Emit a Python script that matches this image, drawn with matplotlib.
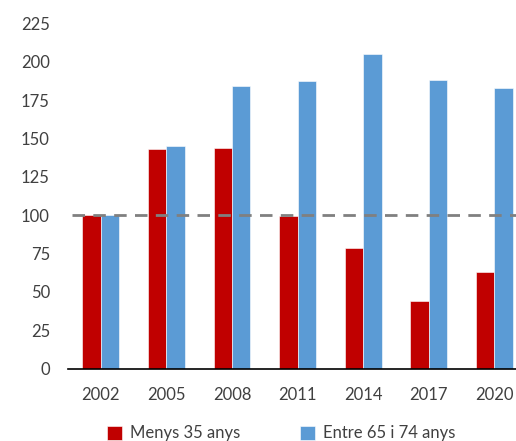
# Menys 35 anys vs Entre 65 i 74 anys (index 2002 = 100)
import matplotlib.pyplot as plt
import numpy as np

plt.rcParams['font.family'] = ['Lato', 'DejaVu Sans']

years = ['2002', '2005', '2008', '2011', '2014', '2017', '2020']
menys_35 = [100, 143, 144, 99.5, 78.5, 44, 63]
entre_65_74 = [100, 145, 184.5, 187.5, 205, 188, 183]
y_ticks = [0, 25, 50, 75, 100, 125, 150, 175, 200, 225]

red = '#C00000'
blue = '#5B9BD5'
text_color = '#404040'

fig = plt.figure(figsize=(5.16, 4.41), dpi=100)
ax = fig.add_axes([68 / 516, 72.3 / 441, 1 - 68 / 516, 345.2 / 441])

x = np.arange(len(years))
w = 0.28
ax.bar(x - w / 2, menys_35, w, color=red, edgecolor='white', linewidth=0.4,
       label='Menys 35 anys', zorder=2)
ax.bar(x + w / 2, entre_65_74, w, color=blue, edgecolor='white', linewidth=0.4,
       label='Entre 65 i 74 anys', zorder=2)

ax.axhline(100, xmin=0.01, color='#808080', linewidth=2.0,
           dashes=(4.5, 3), zorder=3)

ax.set_xlim(-0.5, 6.33)
ax.set_ylim(0, 225)
ax.set_yticks(y_ticks)
ax.set_xticks(x)
ax.set_xticklabels(years)
ax.tick_params(axis='both', length=0, labelsize=12, colors=text_color)
ax.tick_params(axis='x', pad=13)
ax.tick_params(axis='y', pad=13)

for side in ['top', 'right', 'left']:
    ax.spines[side].set_visible(False)
ax.spines['bottom'].set_color('black')
ax.spines['bottom'].set_linewidth(1.2)

fig.legend(loc='lower center', bbox_to_anchor=(0.545, -0.035), ncol=2,
           frameon=False, fontsize=12, handlelength=0.9, handleheight=0.9,
           handletextpad=0.5, columnspacing=3.6, labelcolor=text_color)

fig.savefig('out.png', dpi=100)
